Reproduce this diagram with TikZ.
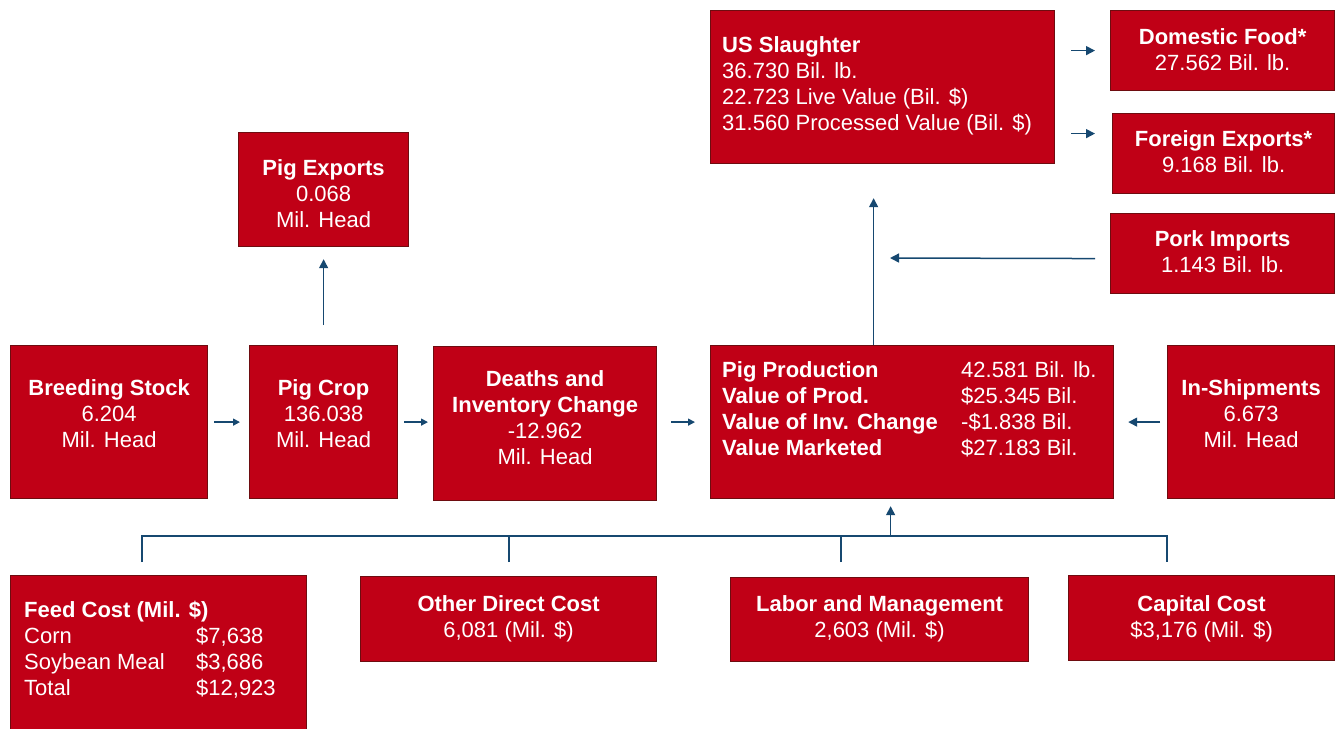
\documentclass[tikz,border=0pt]{standalone}
\usepackage{fontspec}
\setmainfont{Liberation Sans}
\usetikzlibrary{arrows.meta}
\definecolor{boxred}{RGB}{192,0,22}
\definecolor{boxedge}{RGB}{110,12,16}
\definecolor{flowblue}{RGB}{22,72,112}
\tikzset{
	box/.style={draw=boxedge,fill=boxred,line width=1.2pt,inner sep=0pt,anchor=north west},
	boxsize/.style 2 args={minimum width=#1pt,minimum height=#2pt},
	txt/.style={text=white,font=\fontsize{22}{26}\selectfont,align=center,inner sep=0pt},
	arr/.style={-{Triangle[length=#1,width=#1]},draw=flowblue,line width=1.5pt},
	arr/.default=9pt,
	bus/.style={draw=flowblue,line width=2pt}
}

\begin{document}
\begin{tikzpicture}[x=1pt,y=-1pt]
	\useasboundingbox (0,0) rectangle (1335,728);
	\clip (0,0) rectangle (1335,728);
	% slaughter and where it goes
	\node [box,boxsize={344}{153},label={[txt,align=left,anchor=west,xshift=12pt,yshift=1pt]west:{\textbf{US Slaughter}\\36.730 Bil. lb.\\22.723 Live Value (Bil. \$)\\31.560 Processed Value (Bil. \$)}}] (us) at (710,10) {};
	\node [box,boxsize={224}{80},label={[txt,yshift=1pt]center:{\textbf{Domestic Food*}\\27.562 Bil. lb.}}] (df) at (1110,10) {};
	\node [box,boxsize={222}{80},label={[txt,yshift=1.5pt]center:{\textbf{Foreign Exports*}\\9.168 Bil. lb.}}] (fe) at (1112,113) {};
	\node [box,boxsize={224}{80},label={[txt,yshift=1.5pt]center:{\textbf{Pork Imports}\\1.143 Bil. lb.}}] (pi) at (1110,213) {};
	\node [box,boxsize={170}{114},label={[txt,yshift=-4pt]center:{\textbf{Pig Exports}\\0.068\\Mil. Head}}] (pe) at (238,132) {};
	% the herd row
	\node [box,boxsize={197}{153},label={[txt,yshift=8pt]center:{\textbf{Breeding Stock}\\6.204\\Mil. Head}}] (bs) at (10,345) {};
	\node [box,boxsize={148}{153},label={[txt,yshift=8pt]center:{\textbf{Pig Crop}\\136.038\\Mil. Head}}] (pc) at (249,345) {};
	\node [box,boxsize={223}{154},label={[txt,yshift=5.5pt]center:{\textbf{Deaths and}\\\textbf{Inventory Change}\\-12.962\\Mil. Head}}] (dc) at (433,346) {};
	\node [box,boxsize={403}{153},label={[txt,align=left,anchor=west,xshift=12pt,yshift=13pt]west:{\makebox[239pt][l]{\textbf{Pig Production}}42.581 Bil. lb.\\\makebox[239pt][l]{\textbf{Value of Prod.}}\$25.345 Bil.\\\makebox[239pt][l]{\textbf{Value of Inv. Change}}-\$1.838 Bil.\\\makebox[239pt][l]{\textbf{Value Marketed}}\$27.183 Bil.}}] (pp) at (710,345) {};
	\node [box,boxsize={167}{153},label={[txt,yshift=8pt]center:{\textbf{In-Shipments}\\6.673\\Mil. Head}}] (is) at (1167,345) {};
	% costs
	\node [box,boxsize={296}{190},label={[txt,align=left,anchor=north west,xshift=14pt,yshift=-26pt]north west:{\textbf{Feed Cost (Mil. \$)}\\\makebox[172pt][l]{Corn}\$7,638\\\makebox[172pt][l]{Soybean Meal}\$3,686\\\makebox[172pt][l]{Total}\$12,923}}] (fc) at (10,575) {};
	\node [box,boxsize={296}{85},label={[txt]center:{\textbf{Other Direct Cost}\\6,081 (Mil. \$)}}] (od) at (360,576) {};
	\node [box,boxsize={298}{84},label={[txt,yshift=1pt]center:{\textbf{Labor and Management}\\2,603 (Mil. \$)}}] (lm) at (730,577) {};
	\node [box,boxsize={266}{85},label={[txt,yshift=-1pt]center:{\textbf{Capital Cost}\\\$3,176 (Mil. \$)}}] (cc) at (1068,575) {};

	% arrows
	\coordinate (fein) at ([yshift=20pt]fe.west);
	\coordinate (pin) at (890,258);
	\draw [arr,shorten <=16pt,shorten >=15pt] (us.east |- df.west) -- (df.west);
	\draw [arr,shorten <=16pt,shorten >=17pt] (us.east |- fein) -- (fein);
	\draw [arr,shorten <=15pt] ([yshift=-5pt]pi.west) -- (pin);
	\draw [arr,shorten >=34pt] ([xshift=-38.5pt]pp.north) -- ([xshift=-38.5pt]pp.north |- us.south);
	\draw [arr,shorten <=20pt,shorten >=12pt] (pc.north) -- (pc.north |- pe.south);
	\draw [arr=7pt,shorten <=6pt,shorten >=9pt] (bs.east) -- (pc.west);
	\draw [arr=7pt,shorten <=6pt,shorten >=5pt] (pc.east) -- (pc.east -| dc.west);
	\draw [arr=7pt,shorten <=14pt,shorten >=15pt] (dc.east |- pp.west) -- (pp.west);
	\draw [arr,shorten <=7pt,shorten >=14pt] (is.west) -- (pp.east);

	% cost bus
	\coordinate (d1) at ([xshift=-17pt,yshift=13pt]fc.north);
	\coordinate (d2) at ([yshift=14pt]od.north);
	\coordinate (d3) at ([xshift=-39pt,yshift=15pt]lm.north);
	\coordinate (d4) at ([xshift=-34.5pt,yshift=13pt]cc.north);
	\coordinate (bus) at ([yshift=26pt]d1);
	\coordinate (up) at ([xshift=-21.5pt]pp.south);
	\draw [bus] (d1) -- (bus) -| (d4);
	\draw [bus] (d2) -- (d2 |- bus);
	\draw [bus] (d3) -- (d3 |- bus);
	\draw [arr,shorten >=7pt] (up |- bus) -- (up);
\end{tikzpicture}
\end{document}
